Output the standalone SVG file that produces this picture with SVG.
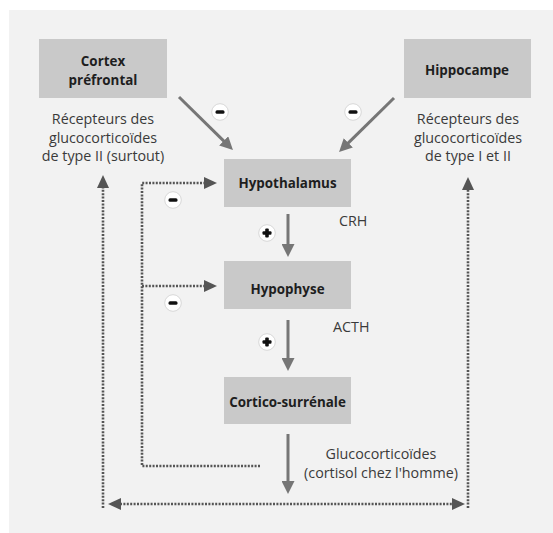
<svg xmlns="http://www.w3.org/2000/svg" width="553" height="533" viewBox="0 0 553 533">
<defs>
<style>
.box{fill:#c9c9c9}
.lbl{font-family:"Open Sans","Noto Sans",sans-serif;font-weight:bold;font-size:13.4px;fill:#1e1e1e;text-anchor:middle}
.txt{font-family:"Open Sans","Noto Sans",sans-serif;font-size:14.3px;fill:#3a3a3a}
.mid{text-anchor:middle}
.solid{stroke:#767676;stroke-width:3;fill:none}
.dot{stroke:#555;stroke-width:2.6;fill:none;stroke-dasharray:2 1.4}
.sign circle{fill:#fff;stroke:#d8d8d8;stroke-width:1}
.sign rect{fill:#111}
</style>
<marker id="sa" markerUnits="userSpaceOnUse" markerWidth="14" markerHeight="13" refX="1" refY="6.5" orient="auto">
<path d="M0,0 L13,6.5 L0,13 z" fill="#767676"/>
</marker>
<marker id="da" markerUnits="userSpaceOnUse" markerWidth="14" markerHeight="12" refX="1" refY="6" orient="auto-start-reverse">
<path d="M0,0 L13,6 L0,12 z" fill="#555"/>
</marker>
</defs>
<rect x="9" y="10" width="544" height="523" fill="#f2f2f2"/>

<g id="connectors">
<line class="solid" x1="179" y1="97" x2="224.4" y2="141.6" marker-end="url(#sa)"/>
<line class="solid" x1="394" y1="98" x2="347.6" y2="143.6" marker-end="url(#sa)"/>
<line class="solid" x1="288" y1="214" x2="288" y2="245" marker-end="url(#sa)"/>
<line class="solid" x1="288" y1="320" x2="288" y2="359" marker-end="url(#sa)"/>
<line class="solid" x1="288" y1="434" x2="288" y2="482" marker-end="url(#sa)"/>
<path class="dot" d="M260,466 H142 V183 H205" marker-end="url(#da)"/>
<path class="dot" d="M142,286 H205" marker-end="url(#da)"/>
<path class="dot" d="M103,508 V187" marker-end="url(#da)"/>
<path class="dot" d="M468,508 V189" marker-end="url(#da)"/>
<path class="dot" d="M120,504 H453" marker-start="url(#da)" marker-end="url(#da)"/>
</g>

<g id="signs">
<g class="sign"><circle cx="220" cy="112" r="8.3"/><rect x="215.5" y="110.2" width="9" height="3.6" rx="1.5"/></g>
<g class="sign"><circle cx="353" cy="112" r="8.3"/><rect x="348.5" y="110.2" width="9" height="3.6" rx="1.5"/></g>
<g class="sign"><circle cx="173" cy="200" r="8.3"/><rect x="168.5" y="198.2" width="9" height="3.6" rx="1.5"/></g>
<g class="sign"><circle cx="173" cy="303" r="8.3"/><rect x="168.5" y="301.2" width="9" height="3.6" rx="1.5"/></g>
<g class="sign"><circle cx="267" cy="233" r="8.3"/><rect x="262.5" y="231.2" width="9" height="3.6" rx="1"/><rect x="265.2" y="228.5" width="3.6" height="9" rx="1"/></g>
<g class="sign"><circle cx="267" cy="342" r="8.3"/><rect x="262.5" y="340.2" width="9" height="3.6" rx="1"/><rect x="265.2" y="337.5" width="3.6" height="9" rx="1"/></g>
</g>

<g id="cortex">
<rect class="box" x="39" y="39" width="128" height="59"/>
<text class="lbl" x="103" y="66">Cortex</text>
<text class="lbl" x="103" y="85">préfrontal</text>
<text class="txt mid" x="103" y="124">Récepteurs des</text>
<text class="txt mid" x="103" y="142.5">glucocorticoïdes</text>
<text class="txt mid" x="103" y="161">de type II (surtout)</text>
</g>

<g id="hippocampe">
<rect class="box" x="404" y="39" width="127" height="59"/>
<text class="lbl" x="467" y="75">Hippocampe</text>
<text class="txt mid" x="468" y="124">Récepteurs des</text>
<text class="txt mid" x="468" y="142.5">glucocorticoïdes</text>
<text class="txt mid" x="468" y="161">de type I et II</text>
</g>

<g id="hypothalamus">
<rect class="box" x="224" y="159" width="127" height="48"/>
<text class="lbl" x="287.5" y="188">Hypothalamus</text>
</g>
<text class="txt" x="339" y="226">CRH</text>

<g id="hypophyse">
<rect class="box" x="224" y="261" width="127" height="48"/>
<text class="lbl" x="287.5" y="294">Hypophyse</text>
</g>
<text class="txt" x="333" y="332">ACTH</text>

<g id="cortico-surrenale">
<rect class="box" x="224" y="377" width="127" height="47"/>
<text class="lbl" x="287.5" y="407">Cortico-surrénale</text>
</g>

<g id="glucocorticoides">
<text class="txt mid" x="381" y="459">Glucocorticoïdes</text>
<text class="txt mid" x="381" y="478">(cortisol chez l'homme)</text>
</g>
</svg>
